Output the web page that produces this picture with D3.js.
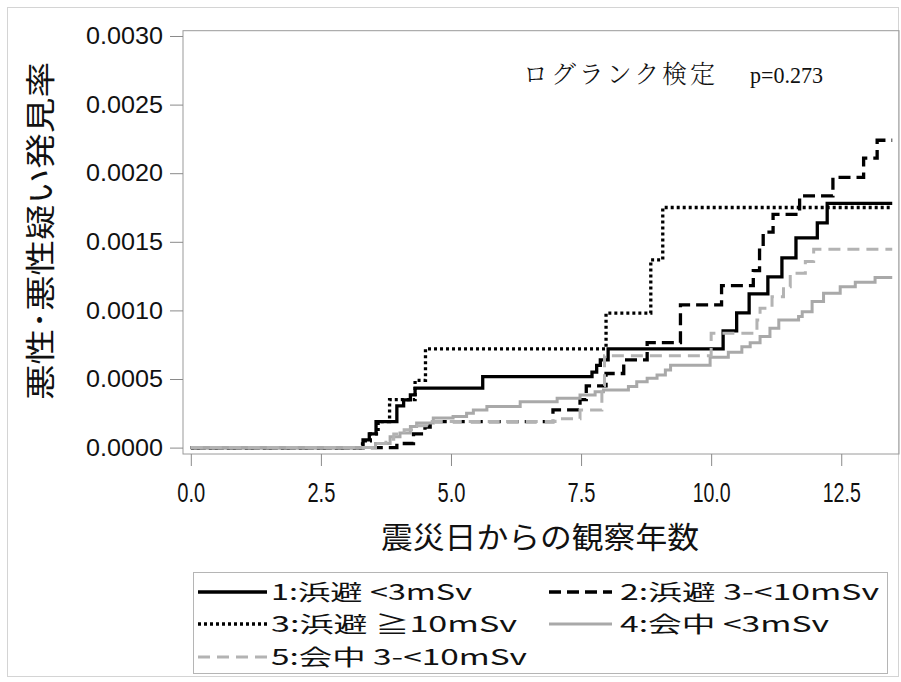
<!DOCTYPE html>
<html>
<head>
<meta charset="utf-8">
<script src="https://cdn.jsdelivr.net/npm/d3@7"></script>
<style>
  html, body { margin: 0; padding: 0; background: #fff; }
  svg { display: block; }
</style>
</head>
<body>
<svg id="chart" width="901" height="682"></svg>
<script>
// Cumulative detection rate by years since the disaster, step curves per group
const endYear = 13.48;

const times1 = [0, 3.31, 3.43, 3.56, 3.96, 4.09, 4.22, 4.31, 5.61, 7.71, 7.80, 7.87, 8.02, 10.23, 10.49, 10.73, 11.09, 11.36, 11.63, 12.04, 12.23];
const rates1 = [0, 0.000056, 0.0001, 0.00019, 0.000304, 0.000348, 0.000384, 0.000433, 0.000517, 0.00055, 0.0006, 0.00064, 0.000719, 0.000851, 0.000982, 0.00112, 0.001244, 0.001383, 0.001529, 0.001638, 0.00178];

const times2 = [0, 3.96, 4.28, 4.5, 4.6, 6.96, 7.48, 7.6, 7.98, 8.32, 8.77, 9.41, 10.2, 10.81, 10.93, 11.0, 11.19, 11.7, 12.34, 12.93, 13.19];
const rates2 = [0, 0.00003, 0.0001, 0.00015, 0.00019, 0.000275, 0.00035, 0.00045, 0.00054, 0.00064, 0.000765, 0.00104, 0.00118, 0.00129, 0.00144, 0.00157, 0.0017, 0.001835, 0.00197, 0.00211, 0.00224];

const times3 = [0, 3.3, 3.45, 3.6, 3.82, 4.31, 4.51, 7.98, 8.84, 9.07];
const rates3 = [0, 0.00005, 0.0001, 0.00019, 0.00035, 0.00049, 0.00072, 0.00098, 0.001368, 0.00175];

const times4 = [0, 3.55, 3.83, 4.02, 4.22, 4.34, 4.66, 5.04, 5.3, 5.43, 5.69, 6.33, 7.04, 7.48, 7.77, 7.93, 8.41, 8.57, 8.77, 8.96, 9.12, 9.22, 9.98, 10.33, 10.59, 10.75, 10.94, 11.13, 11.3, 11.68, 11.75, 11.94, 12.16, 12.48, 12.77, 13.15];
const rates4 = [0, 0.00003, 0.00008, 0.000107, 0.000153, 0.00018, 0.000216, 0.000226, 0.00025, 0.000275, 0.0003, 0.000335, 0.00036, 0.000384, 0.000408, 0.00042, 0.000445, 0.00048, 0.000506, 0.00053, 0.000566, 0.0006, 0.000659, 0.000695, 0.000736, 0.000765, 0.00081, 0.00087, 0.00093, 0.000955, 0.00099, 0.001064, 0.001125, 0.001173, 0.001205, 0.00124];

const times5 = [0, 3.55, 3.75, 3.9, 4.1, 4.3, 4.6, 7.0, 7.48, 7.9, 7.95, 10.0, 10.88, 10.94, 11.17, 11.39, 11.52, 11.81, 11.97];
const rates5 = [0, 0.00003, 0.00006, 0.0001, 0.00013, 0.00016, 0.00019, 0.00021, 0.000275, 0.00045, 0.00067, 0.000834, 0.00093, 0.001016, 0.0011, 0.001173, 0.00127, 0.001356, 0.001446];

const groupLabels = ["1:浜避 <3mSv", "2:浜避 3-<10mSv", "3:浜避 ≧10mSv", "4:会中 <3mSv", "5:会中 3-<10mSv"];

const xTicks = [0, 2.5, 5, 7.5, 10, 12.5];
const yTicks = [0, 0.0005, 0.001, 0.0015, 0.002, 0.0025, 0.003];

const xTitle = "震災日からの観察年数";
const yTitle = "悪性･悪性疑い発見率";
const testLabel = "ログランク検定";
const pLabel = "p=0.273";

const styles = [
  { color: "#000", dash: null, width: 3.3 },
  { color: "#000", dash: "12,6", width: 3.3 },
  { color: "#000", dash: "3,3", width: 3.3 },
  { color: "#a9a9a9", dash: null, width: 3 },
  { color: "#b3b3b3", dash: "12,7", width: 3 }
];

const series = [
  [times1, rates1], [times2, rates2], [times3, rates3], [times4, rates4], [times5, rates5]
].map(([t, r]) => {
  const pts = t.map((d, i) => ({ t: d, v: r[i] }));
  pts.push({ t: endYear, v: r[r.length - 1] });
  return pts;
});

const svg = d3.select("#chart");
const frame = { left: 183, right: 899, top: 30.7, bottom: 454 };

const x = d3.scaleLinear().domain([-0.15, 13.61]).range([frame.left, frame.right]);
const y = d3.scaleLinear().domain([-0.0000466, 0.0030386]).range([frame.bottom, frame.top]);

// outer border of the figure
svg.append("rect")
  .attr("x", 7.5).attr("y", 7.5).attr("width", 891).attr("height", 669)
  .attr("fill", "none").attr("stroke", "#d4d4d4").attr("stroke-width", 1);

// plot frame
svg.append("rect")
  .attr("x", frame.left).attr("y", frame.top)
  .attr("width", frame.right - frame.left).attr("height", frame.bottom - frame.top)
  .attr("fill", "none").attr("stroke", "#9a9a9a").attr("stroke-width", 1);

// y axis
const yAxis = svg.append("g")
  .attr("transform", `translate(${frame.left},0)`)
  .call(d3.axisLeft(y).tickValues(yTicks).tickFormat(d3.format(".4f")).tickSize(13).tickPadding(7));
yAxis.select(".domain").remove();
yAxis.selectAll(".tick line").attr("stroke", "#8a8a8a");
yAxis.selectAll(".tick text")
  .attr("fill", "#111")
  .attr("font-family", "Liberation Sans, Arial, sans-serif")
  .attr("font-size", 24)
  .attr("textLength", 77).attr("lengthAdjust", "spacingAndGlyphs");

// x axis
const xAxis = svg.append("g")
  .attr("transform", `translate(0,${frame.bottom})`)
  .call(d3.axisBottom(x).tickValues(xTicks).tickFormat(d3.format(".1f")).tickSize(12).tickPadding(16));
xAxis.select(".domain").remove();
xAxis.selectAll(".tick line").attr("stroke", "#8a8a8a");
xAxis.selectAll(".tick text")
  .attr("fill", "#111")
  .attr("font-family", "Liberation Sans, Arial, sans-serif")
  .attr("font-size", 28)
  .attr("textLength", d => d >= 10 ? 38 : 28).attr("lengthAdjust", "spacingAndGlyphs");

// step curves
const line = d3.line().x(d => x(d.t)).y(d => y(d.v)).curve(d3.curveStepAfter);
svg.append("g").selectAll("path")
  .data(series)
  .join("path")
  .attr("d", line)
  .attr("fill", "none")
  .attr("stroke", (d, i) => styles[i].color)
  .attr("stroke-width", (d, i) => styles[i].width)
  .attr("stroke-dasharray", (d, i) => styles[i].dash)
  .attr("stroke-linejoin", "miter");

// test annotation
svg.append("text")
  .attr("x", 523).attr("y", 83)
  .attr("font-family", "Noto Serif CJK JP, Noto Sans CJK JP, serif")
  .attr("font-size", 25)
  .attr("font-weight", 300)
  .attr("fill", "#111")
  .attr("textLength", 192).attr("lengthAdjust", "spacing")
  .text(testLabel);
svg.append("text")
  .attr("x", 750).attr("y", 83)
  .attr("font-family", "Liberation Serif, Times New Roman, serif")
  .attr("font-size", 24)
  .attr("fill", "#111")
  .attr("textLength", 73).attr("lengthAdjust", "spacingAndGlyphs")
  .text(pLabel);

// axis titles
svg.append("text")
  .attr("x", 540).attr("y", 548)
  .attr("text-anchor", "middle")
  .attr("font-family", "Noto Sans CJK JP, sans-serif")
  .attr("font-size", 30)
  .attr("fill", "#111")
  .attr("textLength", 318).attr("lengthAdjust", "spacingAndGlyphs")
  .text(xTitle);

svg.append("text")
  .attr("transform", "translate(51,231) rotate(-90)")
  .attr("text-anchor", "middle")
  .attr("font-family", "Noto Sans CJK JP, sans-serif")
  .attr("font-size", 30)
  .attr("fill", "#111")
  .attr("textLength", 338).attr("lengthAdjust", "spacingAndGlyphs")
  .text(yTitle);

// legend
const legend = svg.append("g");
legend.append("rect")
  .attr("x", 193.5).attr("y", 572.5).attr("width", 694).attr("height", 101)
  .attr("fill", "none").attr("stroke", "#b5b5b5").attr("stroke-width", 1);

const legendPos = [
  { sx: 198, ex: 267, tx: 271, ty: 592, tl: 201 },
  { sx: 549, ex: 612, tx: 620, ty: 592, tl: 259 },
  { sx: 198, ex: 267, tx: 271, ty: 624, tl: 246 },
  { sx: 549, ex: 612, tx: 620, ty: 624, tl: 209 },
  { sx: 198, ex: 267, tx: 271, ty: 657, tl: 256 }
];

groupLabels.forEach((lab, i) => {
  const p = legendPos[i];
  legend.append("line")
    .attr("x1", p.sx).attr("x2", p.ex).attr("y1", p.ty).attr("y2", p.ty)
    .attr("stroke", styles[i].color)
    .attr("stroke-width", styles[i].width)
    .attr("stroke-dasharray", styles[i].dash);
  legend.append("text")
    .attr("x", p.tx).attr("y", p.ty)
    .attr("dy", "0.36em")
    .attr("font-family", "Noto Sans CJK JP, sans-serif")
    .attr("font-size", 22)
    .attr("fill", "#111")
    .attr("textLength", p.tl).attr("lengthAdjust", "spacingAndGlyphs")
    .text(lab);
});
</script>
</body>
</html>
